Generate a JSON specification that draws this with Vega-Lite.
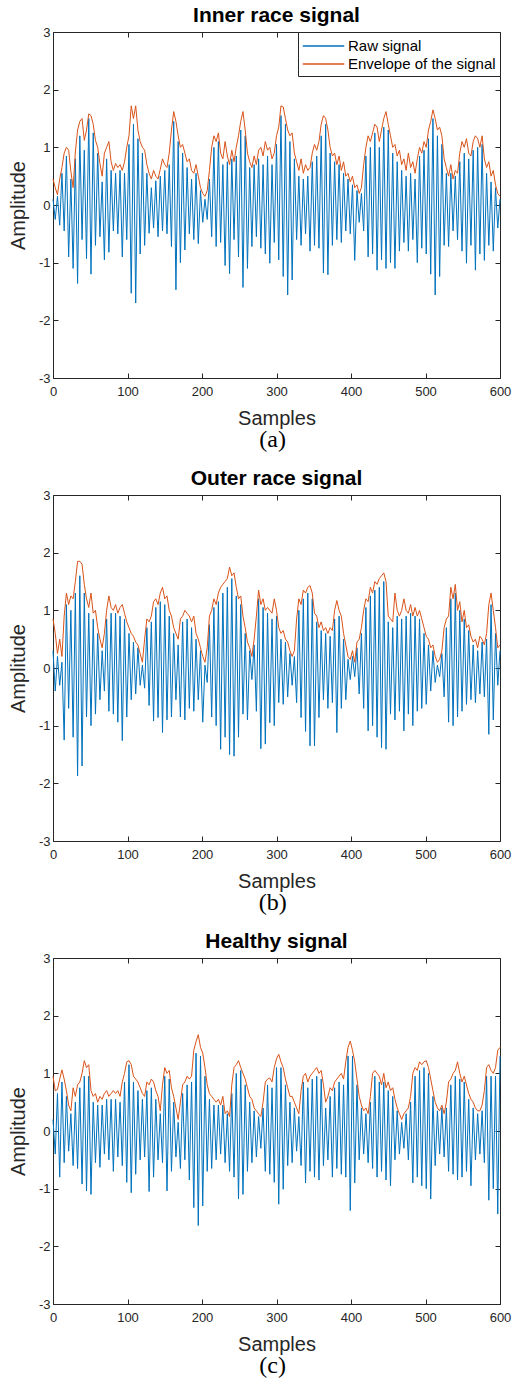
{
"$schema":"https://vega.github.io/schema/vega-lite/v6.json",
"padding":{"left":8,"top":5,"right":2,"bottom":0},
"datasets":{
"a":[
{"x":0,"r":0.10,"e":0.45},{"x":3,"r":-0.25,"e":0.30},{"x":6,"r":0.15,"e":0.18},{"x":9,"r":-0.35,"e":0.45},{"x":12,"r":0.55,"e":0.65},{"x":15,"r":-0.45,"e":0.90},{"x":18,"r":0.85,"e":1.00},{"x":21,"r":-0.90,"e":0.95},{"x":24,"r":0.45,"e":0.58},{"x":27,"r":-1.10,"e":0.30},
{"x":30,"r":0.80,"e":0.92},{"x":33,"r":-1.36,"e":1.30},{"x":36,"r":1.20,"e":1.45},{"x":39,"r":-0.60,"e":1.50},{"x":42,"r":0.95,"e":1.12},{"x":45,"r":-0.93,"e":1.30},{"x":48,"r":1.50,"e":1.58},{"x":51,"r":-1.20,"e":1.55},{"x":54,"r":1.25,"e":1.40},{"x":57,"r":-0.70,"e":1.12},
{"x":60,"r":0.90,"e":1.00},{"x":63,"r":-0.55,"e":0.72},{"x":66,"r":0.40,"e":0.50},{"x":69,"r":-0.95,"e":0.90},{"x":72,"r":0.80,"e":1.00},{"x":75,"r":-0.82,"e":1.10},{"x":78,"r":0.60,"e":0.75},{"x":81,"r":-0.45,"e":0.60},{"x":84,"r":0.55,"e":0.72},{"x":87,"r":-0.50,"e":0.65},
{"x":90,"r":0.60,"e":0.70},{"x":93,"r":-0.90,"e":0.60},{"x":96,"r":0.55,"e":0.75},{"x":99,"r":-0.60,"e":1.00},{"x":102,"r":1.05,"e":1.20},{"x":105,"r":-1.53,"e":1.72},{"x":108,"r":1.40,"e":1.50},{"x":111,"r":-1.70,"e":1.72},{"x":114,"r":1.15,"e":1.30},{"x":117,"r":-0.85,"e":1.10},
{"x":120,"r":0.90,"e":1.00},{"x":123,"r":-0.70,"e":0.95},{"x":126,"r":0.55,"e":0.70},{"x":129,"r":-0.49,"e":0.55},{"x":132,"r":0.30,"e":0.45},{"x":135,"r":-0.40,"e":0.60},{"x":138,"r":0.42,"e":0.50},{"x":141,"r":-0.55,"e":0.45},{"x":144,"r":0.50,"e":0.62},{"x":147,"r":-0.45,"e":0.80},
{"x":150,"r":0.60,"e":0.70},{"x":153,"r":-0.50,"e":0.65},{"x":156,"r":0.70,"e":0.90},{"x":159,"r":-0.72,"e":1.30},{"x":162,"r":1.45,"e":1.62},{"x":165,"r":-1.47,"e":1.45},{"x":168,"r":1.10,"e":1.20},{"x":171,"r":-1.00,"e":1.00},{"x":174,"r":0.90,"e":1.05},{"x":177,"r":-0.78,"e":0.90},
{"x":180,"r":0.65,"e":0.75},{"x":183,"r":-0.50,"e":0.80},{"x":186,"r":0.45,"e":0.60},{"x":189,"r":-0.60,"e":0.55},{"x":192,"r":0.55,"e":0.70},{"x":195,"r":-0.67,"e":0.50},{"x":198,"r":0.25,"e":0.30},{"x":201,"r":-0.30,"e":0.20},{"x":204,"r":0.10,"e":0.15},{"x":207,"r":-0.25,"e":0.25},
{"x":210,"r":0.45,"e":0.60},{"x":213,"r":-0.55,"e":1.00},{"x":216,"r":1.00,"e":1.20},{"x":219,"r":-0.72,"e":1.10},{"x":222,"r":1.10,"e":1.25},{"x":225,"r":-0.65,"e":0.90},{"x":228,"r":0.70,"e":0.80},{"x":231,"r":-1.05,"e":1.10},{"x":234,"r":0.75,"e":0.85},{"x":237,"r":-1.19,"e":0.70},
{"x":240,"r":0.80,"e":0.95},{"x":243,"r":-0.60,"e":0.75},{"x":246,"r":0.85,"e":1.00},{"x":249,"r":-0.90,"e":1.20},{"x":252,"r":1.30,"e":1.45},{"x":255,"r":-1.43,"e":1.62},{"x":258,"r":1.20,"e":1.30},{"x":261,"r":-1.10,"e":0.90},{"x":264,"r":0.65,"e":0.75},{"x":267,"r":-0.72,"e":0.65},
{"x":270,"r":0.70,"e":0.85},{"x":273,"r":-0.55,"e":0.70},{"x":276,"r":0.80,"e":0.95},{"x":279,"r":-0.75,"e":1.00},{"x":282,"r":0.70,"e":0.85},{"x":285,"r":-0.85,"e":1.10},{"x":288,"r":0.85,"e":0.95},{"x":291,"r":-1.01,"e":1.00},{"x":294,"r":0.70,"e":0.80},{"x":297,"r":-0.65,"e":0.90},
{"x":300,"r":1.05,"e":1.20},{"x":303,"r":-0.95,"e":1.35},{"x":306,"r":1.55,"e":1.72},{"x":309,"r":-1.24,"e":1.70},{"x":312,"r":1.40,"e":1.50},{"x":315,"r":-1.56,"e":1.30},{"x":318,"r":1.10,"e":1.20},{"x":321,"r":-1.30,"e":1.25},{"x":324,"r":0.80,"e":0.90},{"x":327,"r":-0.60,"e":0.75},
{"x":330,"r":0.50,"e":0.60},{"x":333,"r":-0.70,"e":0.80},{"x":336,"r":0.45,"e":0.55},{"x":339,"r":-0.50,"e":0.70},{"x":342,"r":0.50,"e":0.60},{"x":345,"r":-0.80,"e":0.65},{"x":348,"r":0.75,"e":0.90},{"x":351,"r":-0.70,"e":1.05},{"x":354,"r":0.85,"e":0.95},{"x":357,"r":-0.75,"e":1.10},
{"x":360,"r":1.20,"e":1.40},{"x":363,"r":-1.18,"e":1.55},{"x":366,"r":1.40,"e":1.50},{"x":369,"r":-1.21,"e":1.30},{"x":372,"r":0.90,"e":1.00},{"x":375,"r":-0.70,"e":0.85},{"x":378,"r":0.75,"e":0.90},{"x":381,"r":-0.60,"e":0.70},{"x":384,"r":0.70,"e":0.85},{"x":387,"r":-0.65,"e":0.60},
{"x":390,"r":0.55,"e":0.75},{"x":393,"r":-0.45,"e":0.50},{"x":396,"r":0.45,"e":0.55},{"x":399,"r":-0.50,"e":0.40},{"x":402,"r":0.35,"e":0.50},{"x":405,"r":-0.96,"e":0.30},{"x":408,"r":0.25,"e":0.35},{"x":411,"r":-0.30,"e":0.20},{"x":414,"r":0.20,"e":0.30},{"x":417,"r":-0.45,"e":0.70},
{"x":420,"r":0.85,"e":1.00},{"x":423,"r":-0.90,"e":1.20},{"x":426,"r":1.00,"e":1.10},{"x":429,"r":-0.85,"e":1.25},{"x":432,"r":1.25,"e":1.40},{"x":435,"r":-1.13,"e":1.35},{"x":438,"r":1.00,"e":1.10},{"x":441,"r":-0.95,"e":1.30},{"x":444,"r":1.35,"e":1.50},{"x":447,"r":-1.10,"e":1.62},
{"x":450,"r":1.30,"e":1.40},{"x":453,"r":-1.00,"e":1.20},{"x":456,"r":0.90,"e":1.00},{"x":459,"r":-1.10,"e":1.05},{"x":462,"r":0.75,"e":0.85},{"x":465,"r":-0.80,"e":0.95},{"x":468,"r":0.60,"e":0.70},{"x":471,"r":-0.65,"e":0.80},{"x":474,"r":0.50,"e":0.60},{"x":477,"r":-0.80,"e":0.90},
{"x":480,"r":0.55,"e":0.65},{"x":483,"r":-0.60,"e":0.75},{"x":486,"r":0.45,"e":0.55},{"x":489,"r":-1.00,"e":0.80},{"x":492,"r":0.85,"e":1.00},{"x":495,"r":-0.75,"e":0.90},{"x":498,"r":0.95,"e":1.10},{"x":501,"r":-0.85,"e":1.00},{"x":504,"r":1.15,"e":1.30},{"x":507,"r":-1.20,"e":1.45},
{"x":510,"r":1.50,"e":1.65},{"x":513,"r":-1.56,"e":1.50},{"x":516,"r":1.20,"e":1.30},{"x":519,"r":-1.24,"e":1.35},{"x":522,"r":1.05,"e":1.20},{"x":525,"r":-0.70,"e":0.80},{"x":528,"r":0.55,"e":0.65},{"x":531,"r":-0.72,"e":0.50},{"x":534,"r":0.55,"e":0.70},{"x":537,"r":-0.45,"e":0.45},
{"x":540,"r":0.50,"e":0.60},{"x":543,"r":-0.60,"e":0.55},{"x":546,"r":0.75,"e":0.90},{"x":549,"r":-0.80,"e":1.10},{"x":552,"r":0.90,"e":1.00},{"x":555,"r":-1.01,"e":1.15},{"x":558,"r":0.80,"e":0.90},{"x":561,"r":-0.70,"e":0.85},{"x":564,"r":0.95,"e":1.10},{"x":567,"r":-1.13,"e":1.20},
{"x":570,"r":1.00,"e":1.15},{"x":573,"r":-0.85,"e":1.00},{"x":576,"r":1.05,"e":1.20},{"x":579,"r":-0.96,"e":0.80},{"x":582,"r":0.55,"e":0.65},{"x":585,"r":-0.70,"e":0.75},{"x":588,"r":0.40,"e":0.50},{"x":591,"r":-0.80,"e":0.60},{"x":594,"r":0.30,"e":0.35},{"x":597,"r":-0.40,"e":0.20},
{"x":600,"r":0.10,"e":0.15}
],
"b":[
{"x":0,"r":0.30,"e":0.85},{"x":3,"r":-0.40,"e":0.60},{"x":6,"r":0.20,"e":0.25},{"x":9,"r":-0.30,"e":0.50},{"x":12,"r":0.10,"e":0.20},{"x":15,"r":-1.25,"e":0.90},{"x":18,"r":1.10,"e":1.30},{"x":21,"r":-0.70,"e":1.10},{"x":24,"r":1.00,"e":1.25},{"x":27,"r":-1.20,"e":1.20},
{"x":30,"r":1.30,"e":1.50},{"x":33,"r":-1.87,"e":1.85},{"x":36,"r":1.60,"e":1.85},{"x":39,"r":-1.70,"e":1.80},{"x":42,"r":1.30,"e":1.45},{"x":45,"r":-0.85,"e":1.20},{"x":48,"r":0.95,"e":1.05},{"x":51,"r":-1.00,"e":1.30},{"x":54,"r":0.85,"e":0.95},{"x":57,"r":-0.80,"e":1.00},
{"x":60,"r":0.60,"e":0.70},{"x":63,"r":-0.55,"e":0.50},{"x":66,"r":0.30,"e":0.35},{"x":69,"r":-0.40,"e":0.60},{"x":72,"r":0.85,"e":1.00},{"x":75,"r":-0.75,"e":1.25},{"x":78,"r":0.95,"e":1.05},{"x":81,"r":-0.80,"e":1.00},{"x":84,"r":0.95,"e":1.10},{"x":87,"r":-0.94,"e":0.95},
{"x":90,"r":0.90,"e":1.05},{"x":93,"r":-1.26,"e":1.10},{"x":96,"r":0.85,"e":0.95},{"x":99,"r":-0.85,"e":0.80},{"x":102,"r":0.60,"e":0.70},{"x":105,"r":-0.55,"e":0.60},{"x":108,"r":0.45,"e":0.55},{"x":111,"r":-0.45,"e":0.45},{"x":114,"r":0.35,"e":0.40},{"x":117,"r":-0.30,"e":0.25},
{"x":120,"r":0.05,"e":0.10},{"x":123,"r":-0.35,"e":0.50},{"x":126,"r":0.70,"e":0.85},{"x":129,"r":-0.65,"e":0.80},{"x":132,"r":0.80,"e":0.90},{"x":135,"r":-0.92,"e":1.15},{"x":138,"r":1.05,"e":1.20},{"x":141,"r":-0.86,"e":1.10},{"x":144,"r":1.15,"e":1.30},{"x":147,"r":-1.12,"e":1.40},
{"x":150,"r":1.10,"e":1.20},{"x":153,"r":-0.90,"e":1.25},{"x":156,"r":0.90,"e":1.00},{"x":159,"r":-0.85,"e":0.90},{"x":162,"r":0.60,"e":0.70},{"x":165,"r":-0.55,"e":0.60},{"x":168,"r":0.40,"e":0.50},{"x":171,"r":-0.85,"e":0.85},{"x":174,"r":0.80,"e":0.90},{"x":177,"r":-0.90,"e":1.00},
{"x":180,"r":0.85,"e":0.95},{"x":183,"r":-0.70,"e":0.90},{"x":186,"r":0.70,"e":0.80},{"x":189,"r":-0.75,"e":0.90},{"x":192,"r":0.50,"e":0.60},{"x":195,"r":-0.55,"e":0.50},{"x":198,"r":0.30,"e":0.35},{"x":201,"r":-0.94,"e":0.20},{"x":204,"r":0.05,"e":0.10},{"x":207,"r":-0.25,"e":0.35},
{"x":210,"r":0.75,"e":0.90},{"x":213,"r":-0.85,"e":1.00},{"x":216,"r":1.05,"e":1.20},{"x":219,"r":-1.00,"e":1.10},{"x":222,"r":1.15,"e":1.30},{"x":225,"r":-1.41,"e":1.40},{"x":228,"r":1.30,"e":1.45},{"x":231,"r":-1.20,"e":1.50},{"x":234,"r":1.40,"e":1.55},{"x":237,"r":-1.50,"e":1.75},
{"x":240,"r":1.55,"e":1.60},{"x":243,"r":-1.53,"e":1.65},{"x":246,"r":1.25,"e":1.40},{"x":249,"r":-1.20,"e":1.20},{"x":252,"r":1.10,"e":1.25},{"x":255,"r":-0.80,"e":0.90},{"x":258,"r":0.60,"e":0.70},{"x":261,"r":-0.90,"e":0.45},{"x":264,"r":0.30,"e":0.35},{"x":267,"r":-0.20,"e":0.20},
{"x":270,"r":0.40,"e":0.50},{"x":273,"r":-0.75,"e":0.90},{"x":276,"r":1.20,"e":1.35},{"x":279,"r":-1.40,"e":1.10},{"x":282,"r":1.05,"e":1.20},{"x":285,"r":-1.32,"e":1.00},{"x":288,"r":0.95,"e":1.05},{"x":291,"r":-0.95,"e":1.00},{"x":294,"r":0.85,"e":0.95},{"x":297,"r":-1.00,"e":1.20},
{"x":300,"r":0.90,"e":1.00},{"x":303,"r":-0.60,"e":0.70},{"x":306,"r":0.50,"e":0.60},{"x":309,"r":-0.63,"e":0.65},{"x":312,"r":0.45,"e":0.50},{"x":315,"r":-0.50,"e":0.45},{"x":318,"r":0.25,"e":0.30},{"x":321,"r":-0.30,"e":0.20},{"x":324,"r":0.20,"e":0.30},{"x":327,"r":-0.60,"e":0.85},
{"x":330,"r":1.00,"e":1.20},{"x":333,"r":-0.86,"e":1.10},{"x":336,"r":1.20,"e":1.35},{"x":339,"r":-1.10,"e":1.30},{"x":342,"r":1.30,"e":1.40},{"x":345,"r":-1.35,"e":1.43},{"x":348,"r":1.20,"e":1.30},{"x":351,"r":-1.35,"e":0.95},{"x":354,"r":0.80,"e":0.90},{"x":357,"r":-0.86,"e":0.70},
{"x":360,"r":0.65,"e":0.80},{"x":363,"r":-0.55,"e":0.65},{"x":366,"r":0.60,"e":0.70},{"x":369,"r":-0.70,"e":0.60},{"x":372,"r":0.55,"e":0.70},{"x":375,"r":-0.60,"e":0.65},{"x":378,"r":0.85,"e":1.00},{"x":381,"r":-1.12,"e":1.17},{"x":384,"r":0.90,"e":1.00},{"x":387,"r":-0.70,"e":0.90},
{"x":390,"r":0.50,"e":0.60},{"x":393,"r":-0.55,"e":0.40},{"x":396,"r":0.15,"e":0.20},{"x":399,"r":-0.20,"e":0.15},{"x":402,"r":0.20,"e":0.30},{"x":405,"r":-0.15,"e":0.10},{"x":408,"r":0.35,"e":0.45},{"x":411,"r":-0.45,"e":0.50},{"x":414,"r":0.60,"e":0.70},{"x":417,"r":-0.70,"e":1.00},
{"x":420,"r":1.05,"e":1.20},{"x":423,"r":-1.09,"e":1.15},{"x":426,"r":1.25,"e":1.40},{"x":429,"r":-1.00,"e":1.30},{"x":432,"r":1.35,"e":1.50},{"x":435,"r":-1.20,"e":1.45},{"x":438,"r":1.40,"e":1.55},{"x":441,"r":-1.38,"e":1.60},{"x":444,"r":1.50,"e":1.65},{"x":447,"r":-1.41,"e":1.50},
{"x":450,"r":0.80,"e":0.90},{"x":453,"r":-0.80,"e":0.85},{"x":456,"r":0.70,"e":0.80},{"x":459,"r":-0.90,"e":1.30},{"x":462,"r":0.90,"e":1.00},{"x":465,"r":-0.75,"e":0.90},{"x":468,"r":0.85,"e":1.00},{"x":471,"r":-1.09,"e":1.20},{"x":474,"r":0.90,"e":1.00},{"x":477,"r":-0.80,"e":0.95},
{"x":480,"r":0.95,"e":1.10},{"x":483,"r":-1.00,"e":0.90},{"x":486,"r":0.90,"e":1.05},{"x":489,"r":-0.75,"e":0.90},{"x":492,"r":0.85,"e":1.00},{"x":495,"r":-0.70,"e":0.85},{"x":498,"r":0.60,"e":0.70},{"x":501,"r":-0.63,"e":0.55},{"x":504,"r":0.40,"e":0.50},{"x":507,"r":-0.40,"e":0.35},
{"x":510,"r":0.30,"e":0.40},{"x":513,"r":-0.25,"e":0.20},{"x":516,"r":0.05,"e":0.10},{"x":519,"r":-0.15,"e":0.15},{"x":522,"r":0.25,"e":0.30},{"x":525,"r":-0.50,"e":0.70},{"x":528,"r":0.70,"e":0.85},{"x":531,"r":-0.94,"e":0.90},{"x":534,"r":1.20,"e":1.40},{"x":537,"r":-1.00,"e":1.20},
{"x":540,"r":1.30,"e":1.45},{"x":543,"r":-0.85,"e":1.00},{"x":546,"r":1.00,"e":1.15},{"x":549,"r":-0.75,"e":0.80},{"x":552,"r":0.85,"e":1.00},{"x":555,"r":-0.63,"e":0.70},{"x":558,"r":0.65,"e":0.75},{"x":561,"r":-0.55,"e":0.55},{"x":564,"r":0.40,"e":0.45},{"x":567,"r":-0.60,"e":0.50},
{"x":570,"r":0.30,"e":0.35},{"x":573,"r":-0.45,"e":0.55},{"x":576,"r":0.45,"e":0.50},{"x":579,"r":-0.50,"e":0.40},{"x":582,"r":0.50,"e":0.60},{"x":585,"r":-1.15,"e":1.10},{"x":588,"r":1.10,"e":1.30},{"x":591,"r":-0.90,"e":1.00},{"x":594,"r":0.60,"e":0.70},{"x":597,"r":-0.30,"e":0.35},
{"x":600,"r":0.30,"e":0.40}
],
"c":[
{"x":0,"r":0.20,"e":0.95},{"x":3,"r":-0.40,"e":0.70},{"x":6,"r":0.65,"e":0.72},{"x":9,"r":-0.80,"e":0.90},{"x":12,"r":0.85,"e":1.06},{"x":15,"r":-0.55,"e":0.90},{"x":18,"r":0.60,"e":0.70},{"x":21,"r":-0.35,"e":0.45},{"x":24,"r":0.30,"e":0.35},{"x":27,"r":-0.60,"e":0.75},
{"x":30,"r":0.50,"e":0.60},{"x":33,"r":-0.65,"e":0.80},{"x":36,"r":0.75,"e":0.85},{"x":39,"r":-0.92,"e":1.00},{"x":42,"r":0.95,"e":1.22},{"x":45,"r":-1.04,"e":1.10},{"x":48,"r":0.95,"e":1.15},{"x":51,"r":-1.10,"e":0.70},{"x":54,"r":0.50,"e":0.60},{"x":57,"r":-0.55,"e":0.65},
{"x":60,"r":0.45,"e":0.50},{"x":63,"r":-0.63,"e":0.60},{"x":66,"r":0.45,"e":0.55},{"x":69,"r":-0.40,"e":0.65},{"x":72,"r":0.55,"e":0.70},{"x":75,"r":-0.50,"e":0.60},{"x":78,"r":0.55,"e":0.65},{"x":81,"r":-0.70,"e":0.70},{"x":84,"r":0.55,"e":0.65},{"x":87,"r":-0.45,"e":0.70},
{"x":90,"r":0.50,"e":0.60},{"x":93,"r":-0.60,"e":0.85},{"x":96,"r":0.85,"e":1.00},{"x":99,"r":-0.89,"e":1.20},{"x":102,"r":1.15,"e":1.22},{"x":105,"r":-1.07,"e":1.15},{"x":108,"r":0.85,"e":0.95},{"x":111,"r":-0.75,"e":0.90},{"x":114,"r":0.70,"e":0.85},{"x":117,"r":-0.50,"e":0.75},
{"x":120,"r":0.55,"e":0.65},{"x":123,"r":-0.45,"e":0.60},{"x":126,"r":0.70,"e":0.85},{"x":129,"r":-1.05,"e":0.80},{"x":132,"r":0.75,"e":0.90},{"x":135,"r":-0.80,"e":0.85},{"x":138,"r":0.55,"e":0.70},{"x":141,"r":-0.50,"e":0.60},{"x":144,"r":0.30,"e":0.35},{"x":147,"r":-0.55,"e":0.80},
{"x":150,"r":0.95,"e":1.10},{"x":153,"r":-1.04,"e":1.00},{"x":156,"r":0.90,"e":1.05},{"x":159,"r":-0.70,"e":0.75},{"x":162,"r":0.50,"e":0.60},{"x":165,"r":-0.45,"e":0.40},{"x":168,"r":0.15,"e":0.20},{"x":171,"r":-0.65,"e":0.50},{"x":174,"r":0.65,"e":0.80},{"x":177,"r":-0.50,"e":0.85},
{"x":180,"r":0.80,"e":0.95},{"x":183,"r":-0.85,"e":0.90},{"x":186,"r":0.85,"e":0.95},{"x":189,"r":-1.33,"e":1.40},{"x":192,"r":1.35,"e":1.55},{"x":195,"r":-1.64,"e":1.67},{"x":198,"r":1.30,"e":1.45},{"x":201,"r":-1.30,"e":1.35},{"x":204,"r":0.95,"e":1.10},{"x":207,"r":-0.70,"e":0.80},
{"x":210,"r":0.55,"e":0.65},{"x":213,"r":-0.65,"e":0.60},{"x":216,"r":0.45,"e":0.55},{"x":219,"r":-0.50,"e":0.50},{"x":222,"r":0.45,"e":0.55},{"x":225,"r":-0.40,"e":0.45},{"x":228,"r":0.45,"e":0.60},{"x":231,"r":-0.55,"e":0.30},{"x":234,"r":0.30,"e":0.35},{"x":237,"r":-0.70,"e":0.25},
{"x":240,"r":0.65,"e":0.80},{"x":243,"r":-0.80,"e":1.10},{"x":246,"r":1.00,"e":1.15},{"x":249,"r":-1.18,"e":1.22},{"x":252,"r":1.05,"e":1.10},{"x":255,"r":-1.10,"e":1.00},{"x":258,"r":0.80,"e":0.90},{"x":261,"r":-0.70,"e":0.75},{"x":264,"r":0.50,"e":0.60},{"x":267,"r":-0.55,"e":0.55},
{"x":270,"r":0.35,"e":0.40},{"x":273,"r":-0.45,"e":0.35},{"x":276,"r":0.25,"e":0.30},{"x":279,"r":-0.30,"e":0.25},{"x":282,"r":0.40,"e":0.50},{"x":285,"r":-0.70,"e":0.85},{"x":288,"r":0.80,"e":0.90},{"x":291,"r":-0.75,"e":0.92},{"x":294,"r":0.75,"e":0.85},{"x":297,"r":-0.89,"e":1.10},
{"x":300,"r":1.10,"e":1.25},{"x":303,"r":-1.27,"e":1.33},{"x":306,"r":1.10,"e":1.20},{"x":309,"r":-1.01,"e":1.10},{"x":312,"r":0.80,"e":0.90},{"x":315,"r":-0.60,"e":0.75},{"x":318,"r":0.50,"e":0.60},{"x":321,"r":-0.55,"e":0.60},{"x":324,"r":0.40,"e":0.50},{"x":327,"r":-0.35,"e":0.40},
{"x":330,"r":0.25,"e":0.30},{"x":333,"r":-0.60,"e":0.70},{"x":336,"r":0.85,"e":0.95},{"x":339,"r":-0.90,"e":1.00},{"x":342,"r":0.75,"e":0.85},{"x":345,"r":-0.70,"e":0.95},{"x":348,"r":0.90,"e":1.00},{"x":351,"r":-0.80,"e":1.05},{"x":354,"r":0.95,"e":1.10},{"x":357,"r":-0.85,"e":1.00},
{"x":360,"r":0.90,"e":1.05},{"x":363,"r":-0.60,"e":0.80},{"x":366,"r":0.40,"e":0.50},{"x":369,"r":-0.50,"e":0.60},{"x":372,"r":0.60,"e":0.75},{"x":375,"r":-0.80,"e":0.70},{"x":378,"r":0.75,"e":0.85},{"x":381,"r":-0.65,"e":0.90},{"x":384,"r":0.85,"e":0.95},{"x":387,"r":-0.75,"e":1.00},
{"x":390,"r":0.80,"e":0.90},{"x":393,"r":-0.80,"e":1.20},{"x":396,"r":1.30,"e":1.45},{"x":399,"r":-1.38,"e":1.56},{"x":402,"r":1.30,"e":1.40},{"x":405,"r":-0.90,"e":1.20},{"x":408,"r":0.80,"e":0.90},{"x":411,"r":-0.50,"e":0.60},{"x":414,"r":0.40,"e":0.45},{"x":417,"r":-0.40,"e":0.35},
{"x":420,"r":0.30,"e":0.40},{"x":423,"r":-0.55,"e":0.30},{"x":426,"r":0.50,"e":0.60},{"x":429,"r":-0.65,"e":1.00},{"x":432,"r":0.95,"e":1.05},{"x":435,"r":-0.80,"e":1.00},{"x":438,"r":0.85,"e":0.95},{"x":441,"r":-0.70,"e":0.80},{"x":444,"r":0.85,"e":1.00},{"x":447,"r":-0.85,"e":0.75},
{"x":450,"r":0.70,"e":0.85},{"x":453,"r":-0.95,"e":0.70},{"x":456,"r":0.60,"e":0.75},{"x":459,"r":-0.50,"e":0.55},{"x":462,"r":0.35,"e":0.40},{"x":465,"r":-0.40,"e":0.30},{"x":468,"r":0.15,"e":0.20},{"x":471,"r":-0.30,"e":0.30},{"x":474,"r":0.30,"e":0.35},{"x":477,"r":-0.50,"e":0.40},
{"x":480,"r":0.50,"e":0.60},{"x":483,"r":-0.90,"e":1.00},{"x":486,"r":0.95,"e":1.10},{"x":489,"r":-0.80,"e":1.05},{"x":492,"r":1.05,"e":1.20},{"x":495,"r":-0.95,"e":1.15},{"x":498,"r":1.10,"e":1.20},{"x":501,"r":-1.00,"e":1.22},{"x":504,"r":1.00,"e":1.10},{"x":507,"r":-1.18,"e":0.90},
{"x":510,"r":0.60,"e":0.70},{"x":513,"r":-0.60,"e":0.50},{"x":516,"r":0.35,"e":0.40},{"x":519,"r":-0.40,"e":0.35},{"x":522,"r":0.40,"e":0.45},{"x":525,"r":-0.45,"e":0.30},{"x":528,"r":0.40,"e":0.50},{"x":531,"r":-0.70,"e":0.85},{"x":534,"r":0.80,"e":0.90},{"x":537,"r":-0.75,"e":1.00},
{"x":540,"r":0.95,"e":1.05},{"x":543,"r":-0.85,"e":1.20},{"x":546,"r":0.90,"e":1.00},{"x":549,"r":-0.80,"e":0.85},{"x":552,"r":0.85,"e":0.95},{"x":555,"r":-0.70,"e":0.80},{"x":558,"r":0.55,"e":0.65},{"x":561,"r":-0.95,"e":0.55},{"x":564,"r":0.40,"e":0.50},{"x":567,"r":-0.50,"e":0.40},
{"x":570,"r":0.30,"e":0.35},{"x":573,"r":-0.40,"e":0.35},{"x":576,"r":0.35,"e":0.45},{"x":579,"r":-0.55,"e":0.70},{"x":582,"r":0.95,"e":1.10},{"x":585,"r":-1.20,"e":1.15},{"x":588,"r":0.95,"e":1.05},{"x":591,"r":-1.00,"e":1.00},{"x":594,"r":0.95,"e":1.10},{"x":597,"r":-1.44,"e":1.40},
{"x":600,"r":1.30,"e":1.45}
]
},
"config":{
"font":"Liberation Sans",
"view":{"stroke":null},
"concat":{"spacing":16},
"axis":{"domainColor":"#262626","tickColor":"#262626","labelColor":"#262626","titleColor":"#262626","labelFont":"Liberation Sans","labelFontSize":13,"titleFont":"Liberation Sans","titleFontSize":20,"titleFontWeight":"normal","grid":false,"tickSize":-5,"domainWidth":1,"tickWidth":1,"labelFlush":false},
"legend":{"orient":"top-right","offset":0,"fillColor":"white","strokeColor":"#262626","padding":4,"cornerRadius":0,"symbolType":"M-1,0H3.5","symbolSize":340,"symbolStrokeWidth":1.5,"labelFontSize":15,"labelFont":"Liberation Sans","labelColor":"#000000","labelOffset":26,"rowPadding":0},
"title":{"font":"Liberation Sans","color":"#000000"}
},
"vconcat":[
{"title":{"text":"(a)","orient":"bottom","font":"Liberation Serif","fontSize":24,"fontWeight":"normal","anchor":"middle","offset":0,"dx":13},
 "vconcat":[{
 "width":447,"height":346,
 "data":{"name":"a"},
 "title":{"text":"Inner race signal","fontSize":21,"fontWeight":"bold","offset":0},
 "layer":[
 {"mark":{"type":"line","strokeWidth":1},
  "encoding":{
   "x":{"field":"x","type":"quantitative","scale":{"domain":[0,600]},"axis":{"orient":"bottom","values":[0,100,200,300,400,500,600],"title":"Samples","labelPadding":12,"titlePadding":10,"labelFlush":false}},
   "y":{"field":"r","type":"quantitative","scale":{"domain":[-3,3]},"axis":{"orient":"left","values":[-3,-2,-1,0,1,2,3],"title":"Amplitude","labelExpr":"'' + datum.value","labelPadding":8,"titlePadding":10}},
   "color":{"datum":"Raw signal","type":"nominal","scale":{"domain":["Raw signal","Envelope of the signal"],"range":["#0072BD","#D95319"]},"legend":{"title":null}}}},
 {"mark":{"type":"line","strokeWidth":1},
  "encoding":{
   "x":{"field":"x","type":"quantitative","scale":{"domain":[0,600]},"axis":{"orient":"top","values":[0,100,200,300,400,500,600],"labels":false,"title":null}},
   "y":{"field":"e","type":"quantitative","scale":{"domain":[-3,3]},"axis":{"orient":"right","values":[-3,-2,-1,0,1,2,3],"labels":false,"title":null}},
   "color":{"datum":"Envelope of the signal","type":"nominal"}}}
 ],
 "resolve":{"axis":{"x":"independent","y":"independent"}}
 }]},
{"title":{"text":"(b)","orient":"bottom","font":"Liberation Serif","fontSize":24,"fontWeight":"normal","anchor":"middle","offset":0,"dx":13},
 "vconcat":[{
 "width":447,"height":346,
 "data":{"name":"b"},
 "title":{"text":"Outer race signal","fontSize":21,"fontWeight":"bold","offset":0},
 "layer":[
 {"mark":{"type":"line","strokeWidth":1},
  "encoding":{
   "x":{"field":"x","type":"quantitative","scale":{"domain":[0,600]},"axis":{"orient":"bottom","values":[0,100,200,300,400,500,600],"title":"Samples","labelPadding":12,"titlePadding":10,"labelFlush":false}},
   "y":{"field":"r","type":"quantitative","scale":{"domain":[-3,3]},"axis":{"orient":"left","values":[-3,-2,-1,0,1,2,3],"title":"Amplitude","labelExpr":"'' + datum.value","labelPadding":8,"titlePadding":10}},
   "color":{"datum":"Raw signal","type":"nominal","scale":{"domain":["Raw signal","Envelope of the signal"],"range":["#0072BD","#D95319"]},"legend":{"title":null}}}},
 {"mark":{"type":"line","strokeWidth":1},
  "encoding":{
   "x":{"field":"x","type":"quantitative","scale":{"domain":[0,600]},"axis":{"orient":"top","values":[0,100,200,300,400,500,600],"labels":false,"title":null}},
   "y":{"field":"e","type":"quantitative","scale":{"domain":[-3,3]},"axis":{"orient":"right","values":[-3,-2,-1,0,1,2,3],"labels":false,"title":null}},
   "color":{"datum":"Envelope of the signal","type":"nominal"}}}
 ],
 "resolve":{"axis":{"x":"independent","y":"independent"}}
 }]},
{"title":{"text":"(c)","orient":"bottom","font":"Liberation Serif","fontSize":24,"fontWeight":"normal","anchor":"middle","offset":0,"dx":13},
 "vconcat":[{
 "width":447,"height":346,
 "data":{"name":"c"},
 "title":{"text":"Healthy signal","fontSize":21,"fontWeight":"bold","offset":0},
 "layer":[
 {"mark":{"type":"line","strokeWidth":1},
  "encoding":{
   "x":{"field":"x","type":"quantitative","scale":{"domain":[0,600]},"axis":{"orient":"bottom","values":[0,100,200,300,400,500,600],"title":"Samples","labelPadding":12,"titlePadding":10,"labelFlush":false}},
   "y":{"field":"r","type":"quantitative","scale":{"domain":[-3,3]},"axis":{"orient":"left","values":[-3,-2,-1,0,1,2,3],"title":"Amplitude","labelExpr":"'' + datum.value","labelPadding":8,"titlePadding":10}},
   "color":{"datum":"Raw signal","type":"nominal","scale":{"domain":["Raw signal","Envelope of the signal"],"range":["#0072BD","#D95319"]},"legend":{"title":null}}}},
 {"mark":{"type":"line","strokeWidth":1},
  "encoding":{
   "x":{"field":"x","type":"quantitative","scale":{"domain":[0,600]},"axis":{"orient":"top","values":[0,100,200,300,400,500,600],"labels":false,"title":null}},
   "y":{"field":"e","type":"quantitative","scale":{"domain":[-3,3]},"axis":{"orient":"right","values":[-3,-2,-1,0,1,2,3],"labels":false,"title":null}},
   "color":{"datum":"Envelope of the signal","type":"nominal"}}}
 ],
 "resolve":{"axis":{"x":"independent","y":"independent"}}
 }]}
]
}
